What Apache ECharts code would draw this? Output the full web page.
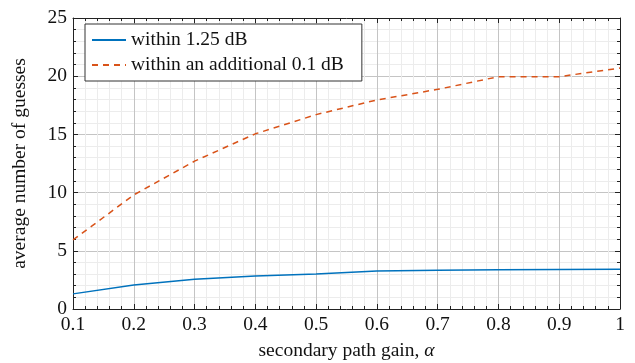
<!DOCTYPE html>
<html><head><meta charset="utf-8">
<script src="https://cdn.jsdelivr.net/npm/echarts@6/dist/echarts.min.js"></script>
<style>html,body{margin:0;padding:0;background:#fff}#c{width:635px;height:363px}</style>
</head><body><div id="c"></div>
<script>
const gains = [0.1,0.2,0.3,0.4,0.5,0.6,0.7,0.8,0.9,1.0];
const within125 = [1.3,2.06,2.55,2.83,3.0,3.26,3.32,3.38,3.4,3.42];
const withinExtra = [5.93,9.8,12.7,15.05,16.7,17.96,18.87,19.96,19.96,20.7];
const seriesNames = ['within 1.25 dB','within an additional 0.1 dB'];
const FONT = 'Liberation Serif';
const FS = 19.5;
const chart = echarts.init(document.getElementById('c'));
const pair = a => gains.map((g,i)=>[g,a[i]]);
const baseAxis = {
  axisLine:{show:true,onZero:false,lineStyle:{color:'#222',width:1}},
  axisTick:{show:true,inside:true,length:5,lineStyle:{color:'#222'}},
  minorTick:{show:true,splitNumber:5,length:3,lineStyle:{color:'#222'}},
};
chart.setOption({
  animation:false,
  grid:{left:73,right:15,top:18,bottom:54,containLabel:false,outerBoundsMode:'none'},
  legend:{
    orient:'vertical',left:85,top:24,
    data:seriesNames,
    backgroundColor:'#fff',borderColor:'#333',borderWidth:1,
    padding:[6,18,6,6],itemGap:5,itemWidth:34,itemHeight:14,
    itemStyle:{opacity:0},
    textStyle:{fontFamily:FONT,fontSize:FS,color:'#111'}
  },
  xAxis:[
    Object.assign({},baseAxis,{
      type:'value',min:0.1,max:1,interval:0.1,position:'bottom',
      name:'{t|secondary path gain, }{a|α}',nameLocation:'middle',nameGap:32,
      nameTextStyle:{rich:{t:{fontFamily:FONT,fontSize:FS,color:'#111'},a:{fontFamily:FONT,fontSize:FS,fontStyle:'italic',color:'#111'}}},
      axisLabel:{fontFamily:FONT,fontSize:FS,color:'#111',margin:6,formatter:v=>String(+v.toFixed(2))},
      splitLine:{show:true,lineStyle:{color:'#c4c4c4',width:1}},
      minorSplitLine:{show:true,lineStyle:{color:'#ececec',width:1}}
    }),
    Object.assign({},baseAxis,{
      type:'value',min:0.1,max:1,interval:0.1,position:'top',
      axisLabel:{show:false},splitLine:{show:false}
    })
  ],
  yAxis:[
    Object.assign({},baseAxis,{
      type:'value',min:0,max:25,interval:5,position:'left',
      name:'average number of guesses',nameLocation:'middle',nameGap:43,
      nameTextStyle:{fontFamily:FONT,fontSize:FS,color:'#111'},
      axisLabel:{fontFamily:FONT,fontSize:FS,color:'#111',margin:6},
      splitLine:{show:true,lineStyle:{color:'#c4c4c4',width:1}},
      minorSplitLine:{show:true,lineStyle:{color:'#ececec',width:1}}
    }),
    Object.assign({},baseAxis,{
      type:'value',min:0,max:25,interval:5,position:'right',
      axisLabel:{show:false},splitLine:{show:false}
    })
  ],
  series:[
    {name:seriesNames[0],type:'line',data:pair(within125),symbol:'none',smooth:false,
     lineStyle:{color:'#0072BD',width:1.5},itemStyle:{color:'#0072BD'},z:3},
    {name:seriesNames[1],type:'line',data:pair(withinExtra),symbol:'none',smooth:false,
     lineStyle:{color:'#D95319',width:1.5,type:[6,5]},itemStyle:{color:'#D95319'},z:3}
  ]
});
</script></body></html>
